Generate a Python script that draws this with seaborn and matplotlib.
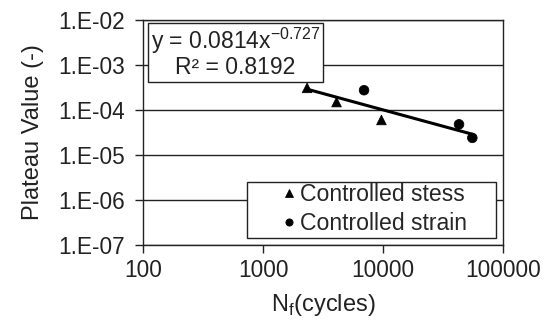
import pandas as pd
import seaborn as sns
import numpy as np
import matplotlib.pyplot as plt
from matplotlib.patches import Rectangle
from matplotlib.ticker import FixedLocator, NullLocator

# Data
stress_cycles = [2330, 4100, 9700]
stress_plateau = [3.1e-4, 1.5e-4, 6.0e-5]
strain_cycles = [6950, 43000, 55500]
strain_plateau = [2.75e-4, 4.8e-5, 2.4e-5]

# power-law trendline from the chart's equation
fit_a = 0.0814
fit_b = -0.727
fit_r2 = 0.8192

y_ticks = [1e-7, 1e-6, 1e-5, 1e-4, 1e-3, 1e-2]
y_labels = ['1.E-07', '1.E-06', '1.E-05', '1.E-04', '1.E-03', '1.E-02']
x_ticks = [100, 1000, 10000, 100000]
x_labels = ['100', '1000', '10000', '100000']

data = pd.DataFrame({
    'cycles': stress_cycles + strain_cycles,
    'plateau': stress_plateau + strain_plateau,
    'mode': ['Controlled stess'] * len(stress_cycles) + ['Controlled strain'] * len(strain_cycles),
})

all_x = np.array(stress_cycles + strain_cycles, dtype=float)
trend = pd.DataFrame({'cycles': [all_x.min(), all_x.max()]})
trend['plateau'] = fit_a * trend['cycles'] ** fit_b

sns.set_theme(style='white')
plt.rcParams['font.family'] = ['Liberation Sans', 'DejaVu Sans']
plt.rcParams['mathtext.fontset'] = 'custom'
plt.rcParams['mathtext.rm'] = 'Liberation Sans'

ink = '#222222'
fig = plt.figure(figsize=(5.53, 3.25), dpi=100)
ax = fig.add_axes([0.2586, 0.2462, 0.651, 0.6923])

sns.lineplot(data=trend, x='cycles', y='plateau', color='black', linewidth=2.2, ax=ax, legend=False)
sns.scatterplot(data=data, x='cycles', y='plateau', style='mode',
                markers={'Controlled stess': '^', 'Controlled strain': 'o'},
                color='black', s=48, edgecolor='black', ax=ax)

ax.set_xscale('log')
ax.set_yscale('log')
ax.set_xlim(100, 100000)
ax.set_ylim(1e-7, 1e-2)
ax.xaxis.set_major_locator(FixedLocator(x_ticks))
ax.yaxis.set_major_locator(FixedLocator(y_ticks))
ax.xaxis.set_minor_locator(NullLocator())
ax.yaxis.set_minor_locator(NullLocator())
ax.set_xticklabels(x_labels)
ax.set_yticklabels(y_labels)
ax.tick_params(axis='both', labelsize=16.3, colors=ink, length=6, width=1, direction='out',
               bottom=True, left=True)
ax.tick_params(axis='y', pad=7)
ax.tick_params(axis='x', pad=4)
ax.yaxis.grid(True, color=ink, linewidth=1)
for s in ax.spines.values():
    s.set_color(ink)
    s.set_linewidth(1)

ax.set_xlabel('N$_\\mathregular{f}$(cycles)', fontsize=17, color=ink, labelpad=7)
ax.set_ylabel('Plateau Value (-)', fontsize=17, color=ink, labelpad=10)

# equation box
ax.add_patch(Rectangle((0.014, 0.724), 0.486, 0.263, transform=ax.transAxes,
                       fc='white', ec=ink, lw=1, zorder=5))
ax.text(0.257, 0.856, 'y = 0.0814x$^{\\mathregular{-0.727}}$\nR² = 0.8192', transform=ax.transAxes,
        ha='center', va='center', fontsize=16.5, color=ink, linespacing=1.05, zorder=6)

# legend box
ax.add_patch(Rectangle((0.289, 0.031), 0.692, 0.249, transform=ax.transAxes,
                       fc='white', ec=ink, lw=1, zorder=5))
leg = ax.legend(loc='center', bbox_to_anchor=(0.639, 0.16), fontsize=16.6, frameon=False,
                handletextpad=0.05, borderpad=0.0, labelspacing=0.25, markerscale=0.75,
                handlelength=0.9)
leg.set_zorder(7)
leg.set_title(None)

plt.savefig('out.png', dpi=100)
